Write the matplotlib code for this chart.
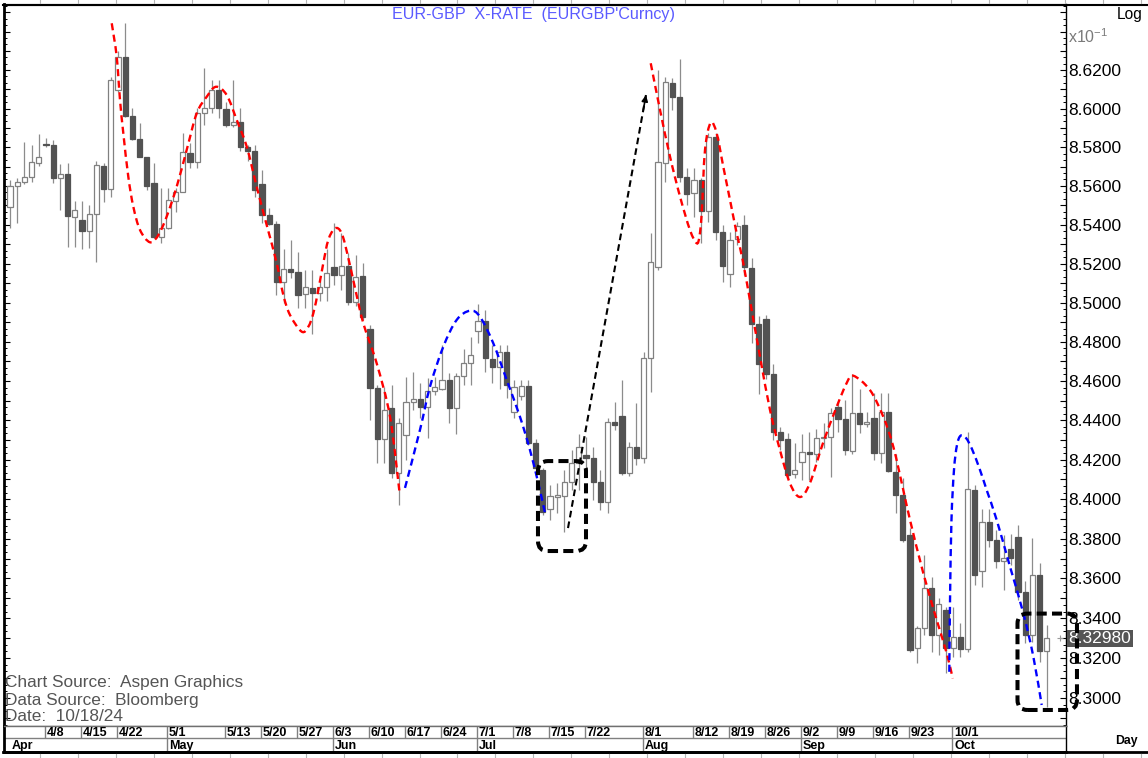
import numpy as np
import pandas as pd
import matplotlib
matplotlib.use('Agg')
import matplotlib.pyplot as plt
from matplotlib.path import Path
from matplotlib.patches import PathPatch, FancyBboxPatch
from matplotlib.lines import Line2D
from matplotlib.ticker import FixedLocator, FuncFormatter, NullFormatter
import matplotlib.transforms as mtransforms

plt.rcParams['font.family'] = ['Liberation Sans', 'DejaVu Sans']

# ---------------- data ----------------
dates = pd.bdate_range('2024-04-01', '2024-10-18')

opens = [
    8.5493, 8.5600, 8.5622, 8.5645, 8.5720, 8.5819, 8.5811, 8.5643, 8.5663, 8.5441,
    8.5425, 8.5368, 8.5454, 8.5702, 8.5585, 8.6096, 8.6269, 8.5962, 8.5841, 8.5748,
    8.5617, 8.5336, 8.5382, 8.5522, 8.5571, 8.5769, 8.5725, 8.5979, 8.6005, 8.6096,
    8.5996, 8.5913, 8.5929, 8.5803, 8.5780, 8.5609, 8.5450, 8.5404, 8.5108, 8.5172,
    8.5159, 8.5044, 8.5074, 8.5048, 8.5079, 8.5185, 8.5142, 8.5188, 8.5005, 8.5137,
    8.4864, 8.4562, 8.4303, 8.4461, 8.4134, 8.4325, 8.4495, 8.4507, 8.4470, 8.4551,
    8.4558, 8.4605, 8.4461, 8.4624, 8.4692, 8.4857, 8.4904, 8.4712, 8.4670, 8.4748,
    8.4444, 8.4525, 8.4575, 8.4286, 8.4146, 8.3950, 8.4010, 8.4016, 8.4088, 8.4181,
    8.4224, 8.4210, 8.4085, 8.3988, 8.4392, 8.4422, 8.4134, 8.4263, 8.4210, 8.4716,
    8.5185, 8.5717, 8.6131, 8.6061, 8.5645, 8.5565, 8.5631, 8.5472, 8.5855, 8.5364,
    8.5146, 8.5325, 8.5399, 8.5177, 8.4893, 8.4917, 8.4636, 8.4342, 8.4304, 8.4125,
    8.4188, 8.4240, 8.4230, 8.4309, 8.4317, 8.4466, 8.4405, 8.4245, 8.4436, 8.4380,
    8.4410, 8.4235, 8.4444, 8.4137, 8.4021, 8.3819, 8.3249, 8.3349, 8.3551, 8.3315,
    8.3441, 8.3249, 8.3304, 8.3244, 8.4046, 8.3639, 8.3885, 8.3793, 8.3689, 8.3746,
    8.3810, 8.3533, 8.3315, 8.3617, 8.3237]

highs = [
    8.5631, 8.5641, 8.5828, 8.5811, 8.5867, 8.5846, 8.5837, 8.5712, 8.5717, 8.5524,
    8.5520, 8.5502, 8.5728, 8.5719, 8.6165, 8.6300, 8.6447, 8.6002, 8.5925, 8.5752,
    8.5719, 8.5588, 8.5588, 8.5588, 8.5872, 8.5822, 8.6005, 8.6209, 8.6148, 8.6148,
    8.6034, 8.6148, 8.6002, 8.5810, 8.5811, 8.5683, 8.5487, 8.5420, 8.5275, 8.5322,
    8.5261, 8.5166, 8.5166, 8.5115, 8.5276, 8.5407, 8.5357, 8.5255, 8.5245, 8.5205,
    8.4886, 8.4580, 8.4571, 8.4580, 8.4410, 8.4622, 8.4647, 8.4590, 8.4615, 8.4620,
    8.4783, 8.4641, 8.4641, 8.4763, 8.4825, 8.4993, 8.4961, 8.4783, 8.4783, 8.4783,
    8.4605, 8.4605, 8.4605, 8.4303, 8.4160, 8.4071, 8.4080, 8.4146, 8.4248, 8.4330,
    8.4315, 8.4266, 8.4146, 8.4411, 8.4495, 8.4605, 8.4292, 8.4487, 8.4748, 8.5357,
    8.6200, 8.6165, 8.6157, 8.6256, 8.5691, 8.5691, 8.5641, 8.5874, 8.5874, 8.5399,
    8.5362, 8.5414, 8.5450, 8.5227, 8.4934, 8.4939, 8.4687, 8.4365, 8.4336, 8.4283,
    8.4330, 8.4342, 8.4355, 8.4385, 8.4465, 8.4492, 8.4502, 8.4636, 8.4558, 8.4444,
    8.4541, 8.4541, 8.4538, 8.4229, 8.4106, 8.3854, 8.3360, 8.3718, 8.3608, 8.3500,
    8.3458, 8.3458, 8.3374, 8.4342, 8.4071, 8.3952, 8.3952, 8.3844, 8.3817, 8.3826,
    8.3870, 8.3588, 8.3802, 8.3678, 8.3366]

lows = [
    8.5384, 8.5409, 8.5610, 8.5622, 8.5705, 8.5803, 8.5617, 8.5474, 8.5287, 8.5284,
    8.5274, 8.5282, 8.5210, 8.5518, 8.5545, 8.6085, 8.5958, 8.5838, 8.5748, 8.5577,
    8.5333, 8.5308, 8.5377, 8.5467, 8.5568, 8.5693, 8.5691, 8.5915, 8.5976, 8.5950,
    8.5905, 8.5906, 8.5780, 8.5729, 8.5545, 8.5411, 8.5400, 8.5040, 8.5000, 8.5127,
    8.4971, 8.4972, 8.4840, 8.5010, 8.5008, 8.5090, 8.5064, 8.4988, 8.4983, 8.4912,
    8.4403, 8.4181, 8.4181, 8.4108, 8.3971, 8.4198, 8.4452, 8.4410, 8.4308, 8.4529,
    8.4556, 8.4385, 8.4330, 8.4580, 8.4580, 8.4792, 8.4647, 8.4590, 8.4559, 8.4511,
    8.4411, 8.4503, 8.4274, 8.4121, 8.3920, 8.3896, 8.3930, 8.3836, 8.4046, 8.4046,
    8.4146, 8.3996, 8.3946, 8.3930, 8.4350, 8.4121, 8.4116, 8.4173, 8.4181, 8.4543,
    8.5169, 8.5622, 8.5993, 8.5622, 8.5502, 8.5441, 8.5308, 8.5414, 8.5322, 8.5108,
    8.5082, 8.5297, 8.5142, 8.4792, 8.4534, 8.4610, 8.4298, 8.4248, 8.4106, 8.4108,
    8.4097, 8.4097, 8.4188, 8.4259, 8.4113, 8.4340, 8.4224, 8.4229, 8.4334, 8.4366,
    8.4198, 8.4181, 8.4140, 8.3930, 8.3785, 8.3230, 8.3174, 8.3316, 8.3230, 8.3215,
    8.3124, 8.3207, 8.3207, 8.3228, 8.3568, 8.3558, 8.3760, 8.3652, 8.3542, 8.3668,
    8.3492, 8.3274, 8.3280, 8.3182, 8.2957]

closes = [
    8.5600, 8.5622, 8.5645, 8.5722, 8.5751, 8.5811, 8.5643, 8.5663, 8.5445, 8.5474,
    8.5368, 8.5454, 8.5706, 8.5585, 8.6148, 8.6269, 8.5962, 8.5841, 8.5751, 8.5602,
    8.5336, 8.5382, 8.5527, 8.5571, 8.5777, 8.5725, 8.5979, 8.6005, 8.6096, 8.6005,
    8.5915, 8.5929, 8.5803, 8.5780, 8.5579, 8.5450, 8.5404, 8.5108, 8.5172, 8.5159,
    8.5040, 8.5079, 8.5048, 8.5079, 8.5151, 8.5142, 8.5188, 8.5005, 8.5133, 8.4926,
    8.4562, 8.4303, 8.4452, 8.4131, 8.4385, 8.4495, 8.4507, 8.4470, 8.4551, 8.4568,
    8.4605, 8.4461, 8.4624, 8.4692, 8.4733, 8.4904, 8.4716, 8.4670, 8.4748, 8.4580,
    8.4571, 8.4575, 8.4286, 8.4156, 8.3935, 8.4016, 8.4020, 8.4088, 8.4181, 8.4263,
    8.4207, 8.4085, 8.3986, 8.4392, 8.4375, 8.4134, 8.4263, 8.4210, 8.4716, 8.5210,
    8.5722, 8.6139, 8.6061, 8.5648, 8.5557, 8.5631, 8.5472, 8.5855, 8.5364, 8.5188,
    8.5322, 8.5394, 8.5183, 8.4893, 8.4687, 8.4636, 8.4342, 8.4300, 8.4121, 8.4150,
    8.4240, 8.4230, 8.4309, 8.4317, 8.4439, 8.4405, 8.4248, 8.4436, 8.4380, 8.4392,
    8.4235, 8.4444, 8.4143, 8.4021, 8.3793, 8.3240, 8.3349, 8.3551, 8.3315, 8.3471,
    8.3249, 8.3304, 8.3244, 8.4049, 8.3617, 8.3885, 8.3793, 8.3689, 8.3701, 8.3701,
    8.3533, 8.3315, 8.3617, 8.3237, 8.3298]

week_labels = ['4/8', '4/15', '4/22', '5/1', '5/13', '5/20', '5/27', '6/3', '6/10',
               '6/17', '6/24', '7/1', '7/8', '7/15', '7/22', '8/1', '8/12', '8/19',
               '8/26', '9/2', '9/9', '9/16', '9/23', '10/1']
month_labels = ['Apr', 'May', 'Jun', 'Jul', 'Aug', 'Sep', 'Oct']
price_labels = [8.30, 8.32, 8.34, 8.36, 8.38, 8.40, 8.42, 8.44, 8.46, 8.48,
                8.50, 8.52, 8.54, 8.56, 8.58, 8.60, 8.62]
last_price_label = '8.32980'

# hand-drawn annotation paths (date index, price)
red_curve_1 = [(14.13, 8.6443), (14.82, 8.6269), (15.28, 8.6044), (15.74, 8.5872),
               (16.43, 8.5648), (17.13, 8.5493), (18.06, 8.5373), (19.44, 8.5310),
               (20.60, 8.5347), (21.76, 8.5442), (23.15, 8.5596), (24.54, 8.5786),
               (25.93, 8.5975), (27.32, 8.6061), (28.61, 8.6113), (30.10, 8.6070),
               (31.49, 8.5941), (32.88, 8.5803), (34.26, 8.5596), (35.65, 8.5399),
               (37.04, 8.5204), (37.96, 8.5040), (38.89, 8.4937), (40.51, 8.4852),
               (41.43, 8.4877), (42.13, 8.4946), (42.82, 8.5065), (43.51, 8.5202),
               (44.21, 8.5322), (45.14, 8.5382), (46.07, 8.5356), (46.99, 8.5229),
               (47.92, 8.5075), (49.07, 8.4895), (50.93, 8.4690), (52.78, 8.4418),
               (54.10, 8.4035)]
red_curve_2 = [(88.99, 8.6235), (90.28, 8.5993), (91.67, 8.5751), (93.06, 8.5545),
               (94.44, 8.5373), (95.38, 8.5305), (95.76, 8.5342), (96.07, 8.5459),
               (96.53, 8.5786), (97.32, 8.5927), (98.15, 8.5872), (99.07, 8.5699),
               (100.0, 8.5528), (100.93, 8.5356), (101.76, 8.5219), (103.01, 8.4963),
               (104.17, 8.4724), (105.56, 8.4452), (106.94, 8.4249), (108.33, 8.4080),
               (109.72, 8.4011), (111.11, 8.4082), (112.92, 8.4285), (114.82, 8.4469),
               (116.21, 8.4590), (117.13, 8.4627), (119.44, 8.4554), (121.29, 8.4418),
               (122.68, 8.4266), (124.07, 8.4046), (125.0, 8.3895), (126.85, 8.3626),
               (128.71, 8.3391), (130.10, 8.3224), (130.93, 8.3098)]
blue_curve_1 = [(54.86, 8.4057), (56.94, 8.4351), (58.33, 8.4571), (60.18, 8.4775),
                (62.04, 8.4912), (63.89, 8.4959), (65.28, 8.4928), (67.13, 8.4792),
                (68.99, 8.4605), (70.83, 8.4418), (72.22, 8.4249), (73.38, 8.4080),
                (74.31, 8.3930)]
blue_curve_2 = [(130.46, 8.3131), (130.56, 8.3491), (130.76, 8.3895), (131.11, 8.4148),
                (131.53, 8.4275), (132.04, 8.4322), (132.78, 8.4310), (133.61, 8.4254),
                (134.72, 8.4148), (135.65, 8.4046), (137.04, 8.3895), (138.89, 8.3659),
                (140.74, 8.3425), (142.13, 8.3207), (143.29, 8.2965)]
arrow_start = (77.5, 8.3854)
arrow_end = (88.33, 8.6070)
box_1 = (73.33, 80.0, 8.3738, 8.4193)      # idx0, idx1, price0, price1
box_2 = (139.93, 148.19, 8.2940, 8.3423)

n = len(dates)
assert len(opens) == len(highs) == len(lows) == len(closes) == n
idx = np.arange(n)
O = np.array(opens); Hh = np.array(highs); L = np.array(lows); C = np.array(closes)

# ---------------- figure ----------------
W, H = 1148, 758
fig = plt.figure(figsize=(W / 100, H / 100), dpi=100)
fig.patch.set_facecolor('white')

def fx(x):
    return x / W

def fy(y):
    return 1 - y / H

ax_l, ax_r, ax_t, ax_b = 4.0, 1065.7, 4.5, 725.7
ax = fig.add_axes([fx(ax_l), fy(ax_b), (ax_r - ax_l) / W, (ax_b - ax_t) / H])
ax.set_yscale('log')
ax.set_xlim(-0.833, 146.625)
ax.set_ylim(8.28615, 8.65408)

# candles
up = C >= O
wick_c = '#8c8c8c'
ax.vlines(idx, L, Hh, color=wick_c, lw=0.9, zorder=2)
bw = 0.72
body_lo = np.minimum(O, C)
body_h = np.maximum(np.abs(C - O), 0.00012)
ax.bar(idx[up], body_h[up], bottom=body_lo[up], width=bw, color='white',
       edgecolor='#808080', linewidth=0.9, zorder=3)
ax.bar(idx[~up], body_h[~up], bottom=body_lo[~up], width=bw, color='#525252',
       edgecolor='#525252', linewidth=0.9, zorder=3)

# last price marker
ax.plot([n + 0.8], [C[-1]], marker='+', color='#9a9a9a', ms=5, mew=0.8, zorder=4)

# smooth hand-drawn curves
SX, SY = 7.2, 16600.0

def smooth_path(pts):
    P = np.array([[p[0] * SX, np.log(p[1]) * SY] for p in pts])
    Pe = np.vstack([P[0], P, P[-1]])
    verts = [P[0]]
    codes = [Path.MOVETO]
    for i in range(len(P) - 1):
        p0, p1, p2, p3 = Pe[i], Pe[i + 1], Pe[i + 2], Pe[i + 3]
        c1 = p1 + (p2 - p0) / 6.0
        c2 = p2 - (p3 - p1) / 6.0
        verts += [c1, c2, p2]
        codes += [Path.CURVE4] * 3
    V = np.array(verts)
    data = np.column_stack([V[:, 0] / SX, np.exp(V[:, 1] / SY)])
    return Path(data, codes)

for pts, col in [(red_curve_1, '#ff0000'), (red_curve_2, '#ff0000'),
                 (blue_curve_1, '#0000ff'), (blue_curve_2, '#0000ff')]:
    ax.add_patch(PathPatch(smooth_path(pts), fill=False, edgecolor=col, lw=1.7,
                           linestyle=(0, (3.0, 1.9)), zorder=5, capstyle='butt'))

# dashed arrow
ax.plot([arrow_start[0], arrow_end[0]], [arrow_start[1], arrow_end[1]],
        color='black', lw=1.5, linestyle=(0, (3.2, 2.0)), zorder=5)
t = 0.965
pre = (arrow_start[0] + t * (arrow_end[0] - arrow_start[0]),
       np.exp(np.log(arrow_start[1]) + t * (np.log(arrow_end[1]) - np.log(arrow_start[1]))))
ax.annotate('', xy=arrow_end, xytext=pre,
            arrowprops=dict(arrowstyle='-|>', color='black', lw=1.2,
                            mutation_scale=9, shrinkA=0, shrinkB=0), zorder=6)

# axes styling
for s in ['top', 'bottom', 'left', 'right']:
    ax.spines[s].set_color('black')
ax.spines['left'].set_linewidth(2.0)
ax.spines['top'].set_linewidth(1.5)
ax.spines['right'].set_linewidth(1.0)
ax.spines['bottom'].set_color('#707070')
ax.spines['bottom'].set_linewidth(1.0)
ax.set_xticks([])

major_ticks = [round(8.29 + 0.01 * k, 2) for k in range(37)]
minor_ticks = [8.28 + 0.01 * k / 3.0 for k in range(120)]
ax.yaxis.set_major_locator(FixedLocator(major_ticks))
ax.yaxis.set_minor_locator(FixedLocator(minor_ticks))
lab_set = set(round(v, 2) for v in price_labels)
ax.yaxis.set_major_formatter(FuncFormatter(
    lambda v, p: ('%.4f' % v) if round(v, 2) in lab_set else ''))
ax.yaxis.set_minor_formatter(NullFormatter())
ax.tick_params(axis='y', which='both', left=True, right=True, direction='in',
               labelleft=False, labelright=True, color='black')
ax.tick_params(axis='y', which='major', length=4, width=0.8, pad=1.8,
               labelsize=12.5, labelcolor='black')
ax.tick_params(axis='y', which='minor', length=2, width=0.7)

# current price box
trans = mtransforms.blended_transform_factory(ax.transAxes, ax.transData)
ax.text(1.0 + 2.8 / (ax_r - ax_l), C[-1], last_price_label, transform=trans,
        ha='left', va='center', fontsize=12.5, color='white', clip_on=False,
        bbox=dict(boxstyle='square,pad=0.08', fc='#555555', ec='none'), zorder=7)

# dashed rounded boxes (drawn in pixel space)
def dashed_box(b, rad=10):
    x0, y0 = ax.transData.transform((b[0], b[2]))
    x1, y1 = ax.transData.transform((b[1], b[3]))
    p = FancyBboxPatch((x0, y0), x1 - x0, y1 - y0,
                       boxstyle='round,pad=0,rounding_size=%d' % rad,
                       fill=False, edgecolor='black', lw=2.9,
                       linestyle=(0, (2.5, 1.3)), transform=mtransforms.IdentityTransform(),
                       zorder=8)
    fig.add_artist(p)

dashed_box(box_1)
dashed_box(box_2)

# ---------------- date band ----------------
band_t, band_b = 725.7, 751.7
band = fig.add_axes([fx(ax_l), fy(band_b), (ax_r - ax_l) / W, (band_b - band_t) / H])
band.set_xlim(ax.get_xlim())
band.set_ylim(0, 1)
band.set_xticks([]); band.set_yticks([])
band.spines['top'].set_color('#707070'); band.spines['top'].set_linewidth(1.0)
band.spines['bottom'].set_color('black'); band.spines['bottom'].set_linewidth(2.0)
band.spines['left'].set_color('black'); band.spines['left'].set_linewidth(2.0)
band.spines['right'].set_color('black'); band.spines['right'].set_linewidth(1.0)
mid = (band_b - 738.3) / (band_b - band_t)
band.axhline(mid, color='#808080', lw=1.0)

for lab in week_labels:
    m, d = [int(s) for s in lab.split('/')]
    k = dates.get_loc(pd.Timestamp(2024, m, d))
    band.vlines(k - 0.15, mid, 1, color='#808080', lw=1.0)
    band.text(k + 0.1, 0.73, lab, fontsize=9, fontweight='bold', ha='left', va='center')

month_num = {'Apr': 4, 'May': 5, 'Jun': 6, 'Jul': 7, 'Aug': 8, 'Sep': 9, 'Oct': 10}
for j, lab in enumerate(month_labels):
    mm = month_num[lab]
    k = int(np.where(dates.month == mm)[0][0])
    if j > 0:
        band.vlines(k - 0.15, 0, mid, color='#808080', lw=1.0)
    band.text(k + 0.15 if j > 0 else k + 0.25, 0.23, lab, fontsize=9,
              fontweight='bold', ha='left', va='center')

# ---------------- frame lines & texts ----------------
def fline(x0, y0, x1, y1, **kw):
    fig.add_artist(Line2D([fx(x0), fx(x1)], [fy(y0), fy(y1)],
                          transform=fig.transFigure, **kw))

fline(3, 4.5, 1148, 4.5, color='black', lw=1.5)
fline(3, band_b, 1148, band_b, color='black', lw=2.0)
for k in range(30):
    xx = 40 + 37.95 * k
    fline(xx, 0, xx, 2.5, color='#b5b5b5', lw=0.8)
    fline(xx, 754, xx, 758, color='#b5b5b5', lw=0.8)

fig.text(fx(534), fy(14), "EUR-GBP  X-RATE  (EURGBP'Curncy)", ha='center', va='center',
         color='#5a5aff', fontsize=11.6)
fig.text(fx(1142), fy(14), 'Log', ha='right', va='center', color='black', fontsize=11.2)
fig.text(fx(1068), fy(37), r'x10$^{\mathregular{-1}}$', ha='left', va='center',
         color='#7a7a7a', fontsize=11.5)
fig.text(fx(1115), fy(741), 'Day', ha='left', va='center', color='black',
         fontsize=8.8, fontweight='bold')

src_lines = ['Chart Source:  Aspen Graphics', 'Data Source:  Bloomberg', 'Date:  10/18/24']
for yy, s in zip([682.3, 700, 716.7], src_lines):
    fig.text(fx(5), fy(yy), s, ha='left', va='center', color='#555555', fontsize=12.4)

fig.savefig('out.png', dpi=100)
